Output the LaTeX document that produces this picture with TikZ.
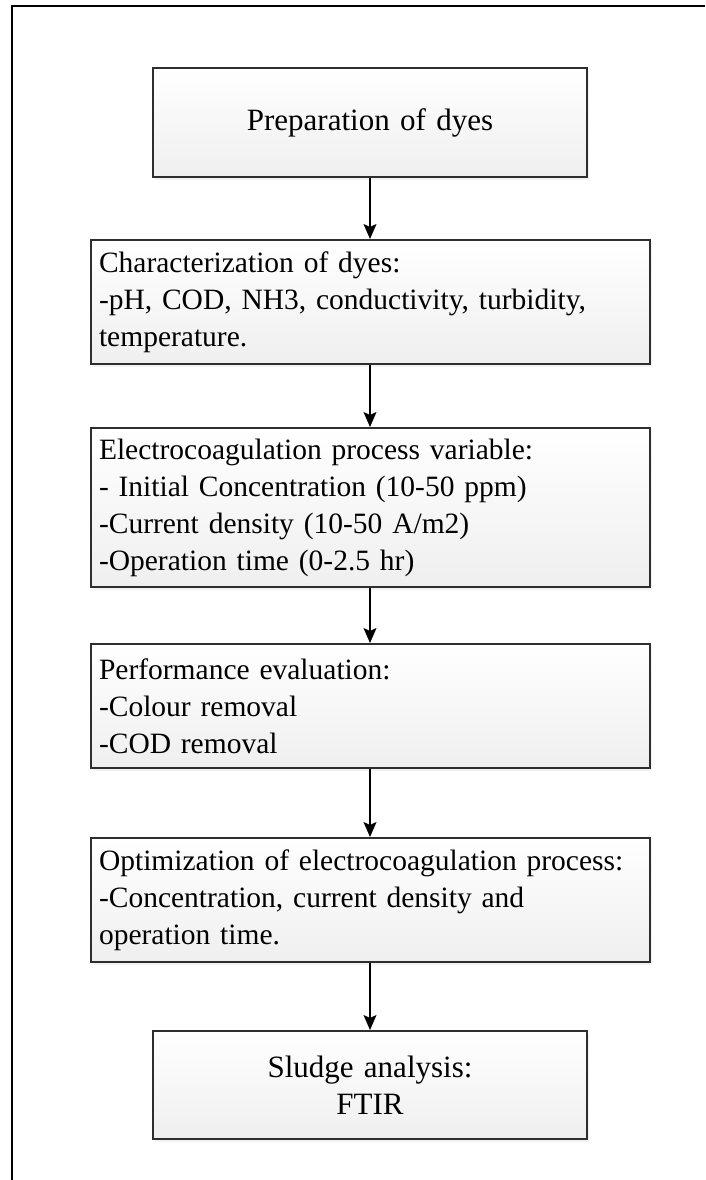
\documentclass[tikz,border=0pt]{standalone}
\usepackage{fontspec}
\setmainfont{Liberation Serif}
\usetikzlibrary{arrows.meta, positioning, shadows}
\definecolor{cframe}{HTML}{000000}
\definecolor{cedge}{HTML}{2E2E2E}
\definecolor{cfill}{HTML}{EFEFEF}
\tikzset{
  every picture/.style={x=1pt, y=-1pt, font=\fontsize{29.5pt}{37pt}\selectfont},
  stage/.style={draw=cedge, line width=2pt, top color=white, bottom color=cfill,
    drop shadow={shadow xshift=2pt, shadow yshift=-3pt, opacity=0.10},
    inner xsep=8pt, inner ysep=4pt, anchor=north west},
  wide/.style={stage, minimum width=559pt, text width=543pt, align=left},
  narrow/.style={stage, minimum width=434pt, text width=418pt, align=center,
    font=\fontsize{31pt}{37pt}\selectfont},
  flow/.style={-{Stealth[length=15pt, width=13pt, inset=3pt]}, draw=black, line width=1.6pt},
}

\begin{document}
\begin{tikzpicture}
  \useasboundingbox (0,0) rectangle (705,1180);
  \draw[cframe, line width=2pt] (12,1180) -- (12,6) -- (705,6);

  \node[narrow, minimum height=109pt] (prep) at (152,67) {Preparation of dyes};
  \node[wide, minimum height=124pt] (charac) at (90,239)
    {Characterization of dyes:\\-pH, COD, NH3, conductivity, turbidity,\\temperature.};
  \node[wide, minimum height=159pt] (ecvar) at (90,427)
    {Electrocoagulation process variable:\\- Initial Concentration (10-50 ppm)\\-Current density (10-50 A/m2)\\-Operation time (0-2.5 hr)};
  \node[wide, minimum height=124pt] (perf) at (90,643)
    {Performance evaluation:\\-Colour removal\\-COD removal};
  \node[wide, minimum height=124pt] (optim) at (90,837)
    {Optimization of electrocoagulation process:\\-Concentration, current density and\\operation time.};
  \node[narrow, minimum height=108pt] (sludge) at (152,1030) {Sludge analysis:\\FTIR};

  \draw[flow] (prep) -- (charac.north -| prep.south);
  \draw[flow] (charac.south -| prep.south) -- (ecvar.north -| prep.south);
  \draw[flow] (ecvar.south -| prep.south) -- (perf.north -| prep.south);
  \draw[flow] (perf.south -| prep.south) -- (optim.north -| prep.south);
  \draw[flow] (optim.south -| prep.south) -- (sludge);
\end{tikzpicture}
\end{document}
